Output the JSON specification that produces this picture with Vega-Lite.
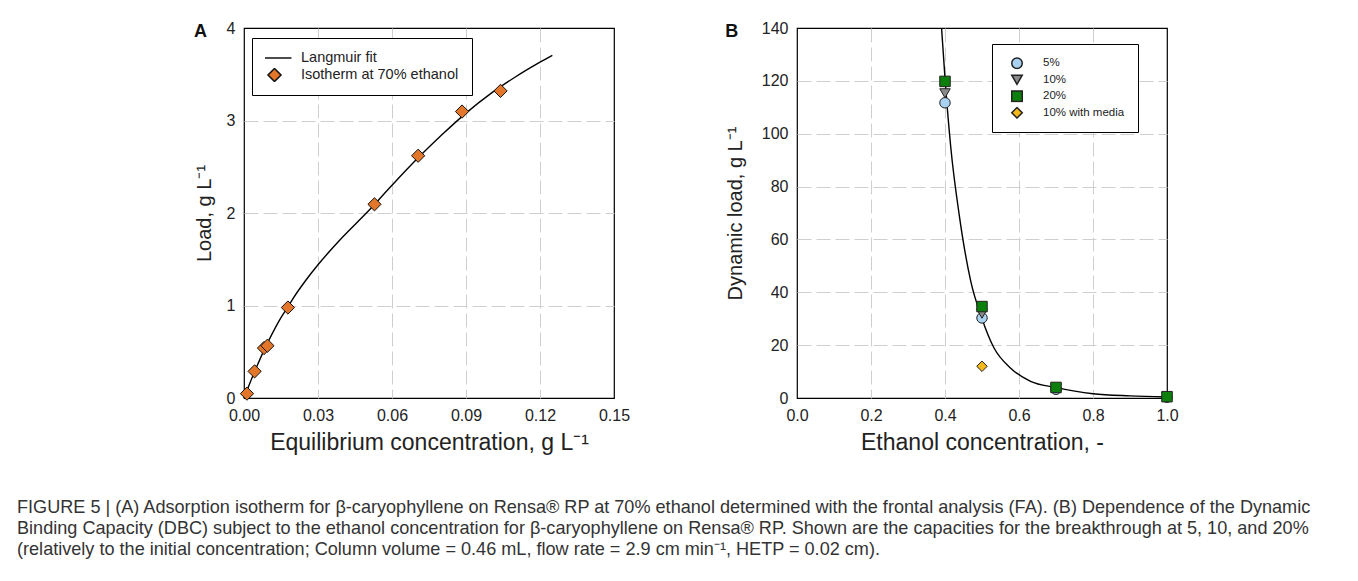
{
  "$schema": "https://vega.github.io/schema/vega-lite/v6.json",
  "background": "white",
  "padding": {"left": 17, "top": 19, "right": 5, "bottom": 5},
  "spacing": 93,
  "datasets": {
    "curveA": [
      {"c": 0, "q": 0}, {"c": 0.002, "q": 0.135}, {"c": 0.005, "q": 0.33}, {"c": 0.01, "q": 0.62},
      {"c": 0.015, "q": 0.87}, {"c": 0.0178, "q": 0.985}, {"c": 0.02, "q": 1.08}, {"c": 0.025, "q": 1.27},
      {"c": 0.03, "q": 1.44}, {"c": 0.04, "q": 1.74}, {"c": 0.05, "q": 2.01}, {"c": 0.06, "q": 2.3},
      {"c": 0.07, "q": 2.58}, {"c": 0.08, "q": 2.84}, {"c": 0.09, "q": 3.08}, {"c": 0.1, "q": 3.29},
      {"c": 0.11, "q": 3.47}, {"c": 0.12, "q": 3.63}, {"c": 0.125, "q": 3.705}
    ],
    "pointsA": [
      {"c": 0.0012, "q": 0.047, "series": "Isotherm at 70% ethanol"},
      {"c": 0.0043, "q": 0.288, "series": "Isotherm at 70% ethanol"},
      {"c": 0.0081, "q": 0.54, "series": "Isotherm at 70% ethanol"},
      {"c": 0.0095, "q": 0.565, "series": "Isotherm at 70% ethanol"},
      {"c": 0.0178, "q": 0.978, "series": "Isotherm at 70% ethanol"},
      {"c": 0.0529, "q": 2.094, "series": "Isotherm at 70% ethanol"},
      {"c": 0.0706, "q": 2.619, "series": "Isotherm at 70% ethanol"},
      {"c": 0.0884, "q": 3.097, "series": "Isotherm at 70% ethanol"},
      {"c": 0.104, "q": 3.32, "series": "Isotherm at 70% ethanol"}
    ],
    "curveB": [
      {"e": 0.3907, "d": 140}, {"e": 0.4005, "d": 120}, {"e": 0.4158, "d": 94.6}, {"e": 0.4383, "d": 69.4},
      {"e": 0.4697, "d": 44.1}, {"e": 0.4993, "d": 30.3}, {"e": 0.5326, "d": 18.9}, {"e": 0.5775, "d": 11.3},
      {"e": 0.6313, "d": 6.3}, {"e": 0.6978, "d": 4.0}, {"e": 0.8, "d": 1.6}, {"e": 0.9, "d": 0.8}, {"e": 1.0, "d": 0.4}
    ],
    "pointsB": [
      {"e": 0.4, "d": 111.7, "series": "5%"},
      {"e": 0.5, "d": 30.3, "series": "5%"},
      {"e": 0.7, "d": 3.3, "series": "5%"},
      {"e": 1.0, "d": 0.3, "series": "5%"},
      {"e": 0.4, "d": 115.3, "series": "10%"},
      {"e": 0.5, "d": 31.9, "series": "10%"},
      {"e": 0.7, "d": 3.6, "series": "10%"},
      {"e": 1.0, "d": 0.4, "series": "10%"},
      {"e": 0.4, "d": 119.8, "series": "20%"},
      {"e": 0.5, "d": 34.6, "series": "20%"},
      {"e": 0.7, "d": 4.0, "series": "20%"},
      {"e": 1.0, "d": 0.5, "series": "20%"},
      {"e": 0.5, "d": 12.0, "series": "10% with media"}
    ]
  },
  "config": {
    "font": "Liberation Sans",
    "view": {"stroke": "black", "strokeWidth": 1.2},
    "axis": {
      "labelFont": "Liberation Sans", "labelFontSize": 16, "labelColor": "#222", "labelFlush": false,
      "titleFont": "Liberation Sans", "titleFontSize": 20, "titleFontWeight": "normal", "titleColor": "#222",
      "gridColor": "#cfcfcf", "gridDash": [14, 5], "gridWidth": 1,
      "domain": false, "ticks": false, "labelPadding": 9
    },
    "axisX": {"titleFontSize": 23, "titlePadding": 8},
    "legend": {
      "labelFont": "Liberation Sans", "labelFontSize": 14.5, "labelColor": "#222",
      "strokeColor": "black", "fillColor": "white", "padding": 11, "cornerRadius": 0,
      "rowPadding": 2, "title": null
    }
  },
  "resolve": {
    "scale": {"fill": "independent", "shape": "independent"},
    "legend": {"fill": "independent", "shape": "independent"}
  },
  "title": {
    "text": [
      "FIGURE 5 | (A) Adsorption isotherm for β-caryophyllene on Rensa® RP at 70% ethanol determined with the frontal analysis (FA). (B) Dependence of the Dynamic",
      "Binding Capacity (DBC) subject to the ethanol concentration for β-caryophyllene on Rensa® RP. Shown are the capacities for the breakthrough at 5, 10, and 20%",
      "(relatively to the initial concentration; Column volume = 0.46 mL, flow rate = 2.9 cm min⁻¹, HETP = 0.02 cm)."
    ],
    "orient": "bottom", "anchor": "start", "frame": "bounds",
    "font": "Liberation Sans", "fontSize": 18.1, "fontWeight": "normal", "color": "#333",
    "lineHeight": 21, "offset": 44
  },
  "hconcat": [
    {
      "width": 83, "height": 370,
      "view": {"stroke": null},
      "data": {"values": []},
      "mark": "point"
    },
    {
      "width": 370, "height": 370,
      "title": {"text": "A", "anchor": "start", "frame": "bounds", "orient": "top", "fontSize": 18, "fontWeight": "bold", "color": "#111", "offset": -21},
      "encoding": {
        "x": {"field": "c", "type": "quantitative", "scale": {"domain": [0, 0.15], "nice": false, "zero": false},
              "axis": {"values": [0, 0.03, 0.06, 0.09, 0.12, 0.15], "format": ".2f", "title": "Equilibrium concentration, g L⁻¹",
                       "gridOpacity": {"condition": {"test": "datum.value <= 0.0001 || datum.value >= 0.1499", "value": 0}, "value": 1}}},
        "y": {"field": "q", "type": "quantitative", "scale": {"domain": [0, 4], "nice": false, "zero": false},
              "axis": {"values": [0, 1, 2, 3, 4], "format": "d", "title": "Load, g L⁻¹", "titlePadding": 12,
                       "gridOpacity": {"condition": {"test": "datum.value <= 0.0001 || datum.value >= 3.999", "value": 0}, "value": 1}}}
      },
      "layer": [
        {
          "data": {"name": "curveA"},
          "mark": {"type": "line", "color": "black", "strokeWidth": 1.4, "interpolate": "monotone"}
        },
        {
          "data": {"name": "pointsA"},
          "mark": {"type": "point", "filled": true, "stroke": "#111", "strokeWidth": 1, "size": 175, "opacity": 1},
          "encoding": {
            "fill": {"field": "series", "type": "nominal",
                     "scale": {"domain": ["Langmuir fit", "Isotherm at 70% ethanol"], "range": ["#000000", "#e2762b"]},
                     "legend": {"orient": "none", "legendX": 8, "legendY": 10, "labelOffset": 19, "symbolOffset": 2, "symbolSize": 170,
                                "padding": 13, "clipHeight": 14, "rowPadding": 2,
                                "encode": {"symbols": {"update": {"stroke": {"value": "#111"}, "strokeWidth": {"value": 1.2}}}}}},
            "shape": {"field": "series", "type": "nominal",
                      "scale": {"domain": ["Langmuir fit", "Isotherm at 70% ethanol"], "range": ["M-2.6,0L2.6,0", "diamond"]},
                      "legend": {"orient": "none", "legendX": 8, "legendY": 10, "labelOffset": 19, "symbolOffset": 2, "symbolSize": 170,
                                 "padding": 13, "clipHeight": 14, "rowPadding": 2,
                                 "encode": {"symbols": {"update": {"stroke": {"value": "#111"}, "strokeWidth": {"value": 1.2}}}}}}
          }
        }
      ]
    },
    {
      "width": 370, "height": 370,
      "title": {"text": "B", "anchor": "start", "frame": "bounds", "orient": "top", "fontSize": 18, "fontWeight": "bold", "color": "#111", "offset": -21},
      "encoding": {
        "x": {"field": "e", "type": "quantitative", "scale": {"domain": [0, 1], "nice": false, "zero": false},
              "axis": {"values": [0, 0.2, 0.4, 0.6, 0.8, 1.0], "format": ".1f", "title": "Ethanol concentration, -",
                       "gridOpacity": {"condition": {"test": "datum.value <= 0.0001 || datum.value >= 0.9999", "value": 0}, "value": 1}}},
        "y": {"field": "d", "type": "quantitative", "scale": {"domain": [0, 140], "nice": false, "zero": false},
              "axis": {"values": [0, 20, 40, 60, 80, 100, 120, 140], "format": "d", "title": "Dynamic load, g L⁻¹", "titlePadding": 16,
                       "gridOpacity": {"condition": {"test": "datum.value <= 0.0001 || datum.value >= 139.99", "value": 0}, "value": 1}}}
      },
      "layer": [
        {
          "data": {"name": "curveB"},
          "mark": {"type": "line", "color": "black", "strokeWidth": 1.4, "interpolate": "monotone", "clip": true}
        },
        {
          "data": {"name": "pointsB"},
          "mark": {"type": "point", "filled": true, "stroke": "#222", "strokeWidth": 1, "size": 110, "opacity": 1},
          "encoding": {
            "fill": {"field": "series", "type": "nominal", "sort": null,
                     "scale": {"domain": ["5%", "10%", "20%", "10% with media"], "range": ["#a9d1f0", "#8a8a8a", "#0c7f0c", "#f4b81a"]},
                     "legend": {"orient": "none", "legendX": 195, "legendY": 16, "labelOffset": 20, "symbolOffset": 6, "padding": 13, "symbolSize": 110,
                                "labelFontSize": 11.5, "rowPadding": 3.5, "clipHeight": 12.5,
                                "encode": {"symbols": {"update": {"stroke": {"value": "#222"}, "strokeWidth": {"value": 1}}}}}},
            "shape": {"field": "series", "type": "nominal", "sort": null,
                      "scale": {"domain": ["5%", "10%", "20%", "10% with media"], "range": ["circle", "triangle-down", "square", "diamond"]},
                      "legend": {"orient": "none", "legendX": 195, "legendY": 16, "labelOffset": 20, "symbolOffset": 6, "padding": 13, "symbolSize": 110,
                                 "labelFontSize": 11.5, "rowPadding": 3.5, "clipHeight": 12.5,
                                 "encode": {"symbols": {"update": {"stroke": {"value": "#222"}, "strokeWidth": {"value": 1}}}}}}
          }
        }
      ]
    }
  ]
}
